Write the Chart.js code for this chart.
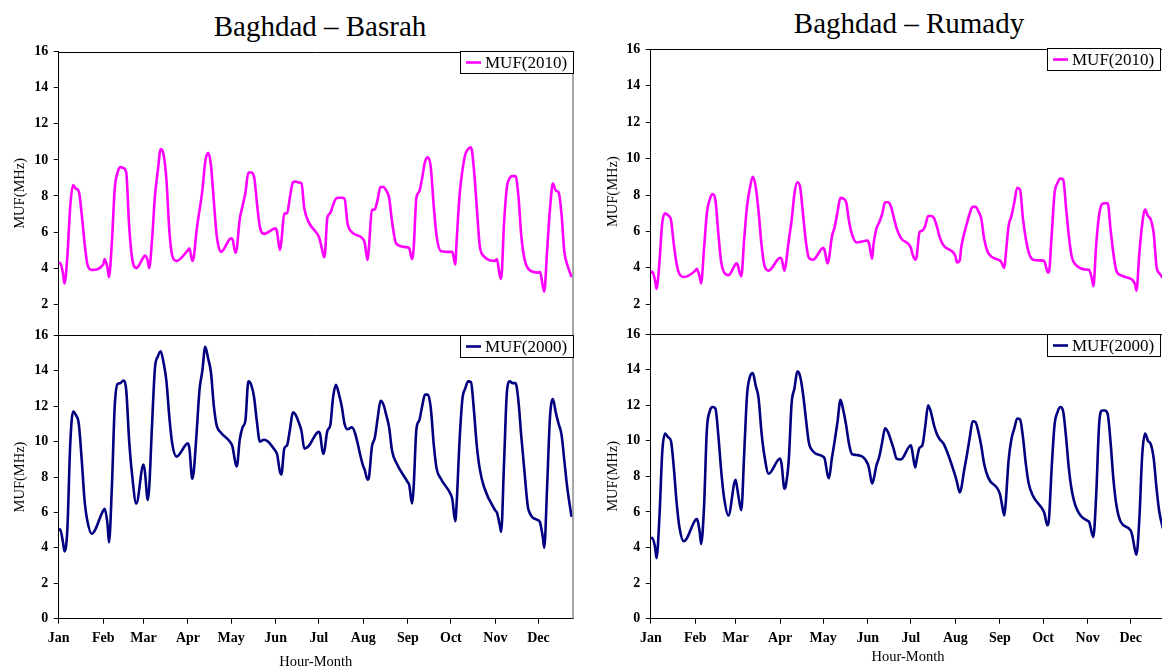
<!DOCTYPE html>
<html>
<head>
<meta charset="utf-8">
<script src="https://cdn.jsdelivr.net/npm/chart.js@4.4.1/dist/chart.umd.min.js"></script>
<style>
  html, body { margin: 0; padding: 0; background: #fff; overflow: hidden; width: 1162px; height: 668px; }
  canvas { position: absolute; left: 0; top: 0; }
  .title { position: absolute; font-family: 'Liberation Serif', 'Times New Roman', serif; font-size: 29px;
           line-height: 29px; white-space: nowrap; transform: translateX(-50%); color: #000; }
</style>
</head>
<body>
<div class="title" style="left:320px; top:12px">Baghdad – Basrah</div>
<div class="title" style="left:909px; top:9px">Baghdad – Rumady</div>
<canvas id="basrahTop" width="1170" height="680"></canvas>
<canvas id="basrahBottom" width="1170" height="680"></canvas>
<canvas id="rumadyTop" width="1170" height="680"></canvas>
<canvas id="rumadyBottom" width="1170" height="680"></canvas>
<script>
const MONTHS = ['Jan', 'Feb', 'Mar', 'Apr', 'May', 'Jun', 'Jul', 'Aug', 'Sep', 'Oct', 'Nov', 'Dec']
const MONTH_DAYS = [31, 28, 31, 30, 31, 30, 31, 31, 30, 31, 30, 31]
// hours of the day
const HOURS = [0, 1, 3, 4, 6, 8, 10, 12, 14, 16, 18, 20, 23]
const Y_TICKS_TOP = [2, 4, 6, 8, 10, 12, 14, 16]
const Y_TICKS_BOTTOM = [0, 2, 4, 6, 8, 10, 12, 14, 16]

// MUF (MHz), one row per month, one value per entry of HOURS
const BASRAH_2010 = [
  [4.25, 4.3, 3.7, 3.15, 4.6, 7.4, 8.6, 8.4, 8.25, 7.0, 5.4, 4.2, 3.9],
  [4.2, 4.5, 4.0, 3.5, 5.4, 8.4, 9.3, 9.6, 9.55, 9.3, 6.4, 4.6, 4.0],
  [4.6, 4.7, 4.4, 4.0, 5.6, 8.0, 9.4, 10.6, 10.3, 8.9, 6.1, 4.7, 4.4],
  [5.0, 5.1, 4.4, 4.6, 6.1, 7.2, 8.3, 9.9, 10.4, 9.7, 7.7, 5.8, 4.9],
  [5.65, 5.6, 4.85, 5.1, 6.7, 7.45, 8.2, 9.3, 9.3, 9.07, 7.6, 6.3, 5.9],
  [6.2, 6.0, 5.0, 5.5, 7.0, 7.05, 7.95, 8.75, 8.8, 8.75, 8.7, 7.3, 6.55],
  [5.75, 5.5, 4.8, 4.6, 6.8, 7.05, 7.5, 7.85, 7.9, 7.9, 7.85, 6.5, 6.0],
  [5.6, 5.4, 4.45, 5.2, 7.2, 7.25, 7.8, 8.5, 8.5, 8.3, 7.9, 6.6, 5.35],
  [5.15, 5.1, 4.5, 5.0, 7.9, 8.25, 9.0, 9.9, 10.15, 9.6, 7.5, 5.8, 4.95],
  [4.9, 4.9, 4.2, 5.5, 8.0, 9.4, 10.3, 10.6, 10.7, 9.5, 7.4, 5.3, 4.65],
  [4.4, 4.5, 3.6, 3.4, 6.5, 8.5, 9.0, 9.1, 9.1, 8.0, 5.8, 4.6, 3.95],
  [3.75, 3.8, 3.0, 2.7, 5.0, 7.3, 8.7, 8.3, 8.2, 7.0, 4.9, 4.2, 3.5]
]
const BASRAH_2000 = [
  [5.0, 5.05, 4.3, 3.8, 5.0, 9.8, 11.7, 11.5, 11.0, 9.0, 6.7, 5.5, 4.8],
  [6.1, 6.2, 5.3, 4.3, 7.4, 12.0, 13.25, 13.3, 13.45, 12.9, 10.1, 8.2, 6.5],
  [8.7, 8.3, 6.7, 7.4, 11.0, 14.15, 14.8, 15.1, 14.45, 13.4, 11.4, 9.9, 9.15],
  [9.9, 9.6, 7.9, 8.3, 10.5, 12.9, 14.0, 15.35, 14.7, 13.9, 12.0, 10.9, 10.5],
  [9.9, 9.7, 8.8, 8.6, 10.1, 10.8, 11.2, 13.4, 13.2, 12.5, 11.1, 10.0, 10.1],
  [9.45, 9.3, 8.3, 8.15, 9.6, 9.8, 10.7, 11.65, 11.5, 11.1, 10.6, 9.6, 9.75],
  [10.55, 10.4, 9.3, 9.5, 10.6, 10.9, 12.5, 13.2, 12.7, 12.0, 11.0, 10.7, 10.8],
  [8.6, 8.4, 7.85, 8.0, 9.7, 10.2, 11.3, 12.3, 12.1, 11.5, 10.8, 9.5, 8.8],
  [7.7, 7.55, 6.5, 7.3, 10.7, 11.2, 12.0, 12.65, 12.65, 11.9, 9.9, 8.5, 7.9],
  [7.0, 6.75, 5.5, 6.5, 10.0, 12.4, 13.0, 13.4, 13.35, 11.8, 9.8, 8.5, 7.45],
  [6.1, 6.0, 5.3, 4.9, 8.8, 12.8, 13.4, 13.3, 13.3, 12.3, 10.3, 8.5, 6.15],
  [5.55, 5.45, 4.6, 4.0, 7.5, 11.4, 12.4, 11.65, 11.0, 10.4, 8.9, 7.4, 5.75]
]
const RUMADY_2010 = [
  [3.7, 3.8, 3.3, 2.85, 4.3, 6.5, 7.0, 6.88, 6.65, 5.3, 4.2, 3.65, 3.5],
  [3.85, 3.95, 3.5, 3.15, 5.0, 7.0, 7.75, 8.05, 7.7, 5.9, 4.3, 3.75, 3.6],
  [4.2, 4.25, 3.7, 3.55, 5.6, 7.4, 8.4, 9.0, 8.45, 7.1, 5.3, 4.15, 3.85],
  [4.55, 4.5, 3.85, 4.2, 5.5, 6.6, 8.1, 8.7, 8.4, 6.9, 5.4, 4.55, 4.45],
  [5.1, 4.95, 4.25, 4.5, 5.7, 6.25, 7.1, 7.85, 7.8, 7.6, 6.55, 5.85, 5.4],
  [5.5, 5.3, 4.5, 5.3, 6.15, 6.5, 6.95, 7.6, 7.6, 7.4, 6.8, 6.2, 5.65],
  [5.1, 4.8, 4.45, 4.6, 5.95, 6.05, 6.3, 6.85, 6.85, 6.75, 6.3, 5.7, 5.2],
  [4.65, 4.3, 4.4, 5.1, 5.85, 6.45, 7.0, 7.35, 7.35, 7.1, 6.7, 5.6, 4.8],
  [4.4, 4.3, 4.0, 4.7, 6.3, 6.85, 7.6, 8.4, 8.3, 6.7, 5.6, 4.85, 4.45],
  [4.4, 4.35, 3.8, 3.75, 5.8, 8.1, 8.65, 8.9, 8.85, 7.3, 5.7, 4.6, 4.15],
  [3.9, 3.9, 3.4, 3.0, 5.3, 6.9, 7.5, 7.55, 7.55, 6.1, 4.75, 3.85, 3.6],
  [3.4, 3.35, 3.1, 2.75, 4.8, 6.4, 7.2, 6.85, 6.65, 5.9, 4.05, 3.7, 3.4]
]
const RUMADY_2000 = [
  [4.5, 4.55, 4.0, 3.4, 5.7, 9.4, 10.4, 10.2, 10.0, 8.5, 6.5, 5.1, 4.35],
  [5.55, 5.6, 4.9, 4.2, 6.2, 10.6, 11.65, 11.9, 11.8, 10.3, 8.3, 6.8, 5.8],
  [7.8, 7.4, 6.4, 6.1, 9.3, 12.6, 13.6, 13.8, 13.1, 12.4, 10.5, 9.2, 8.15],
  [9.0, 8.7, 7.3, 7.5, 8.9, 12.1, 12.95, 13.9, 13.6, 12.6, 11.2, 9.9, 9.4],
  [9.1, 9.0, 8.1, 7.9, 9.0, 10.0, 11.1, 12.3, 11.7, 10.85, 9.8, 9.25, 9.2],
  [8.7, 8.4, 7.6, 7.8, 8.6, 9.1, 9.9, 10.7, 10.5, 10.05, 9.55, 9.0, 8.95],
  [9.75, 9.4, 8.5, 8.9, 9.6, 9.75, 10.8, 12.0, 11.6, 10.9, 10.4, 10.1, 9.8],
  [8.0, 7.7, 7.1, 7.3, 8.3, 9.2, 10.2, 11.1, 11.05, 10.5, 9.7, 8.7, 7.9],
  [7.0, 6.6, 5.8, 6.5, 8.9, 10.1, 10.7, 11.25, 11.2, 10.2, 8.7, 7.6, 6.9],
  [6.1, 5.9, 5.25, 5.5, 8.5, 10.9, 11.6, 11.9, 11.65, 10.2, 8.4, 7.2, 6.25],
  [5.5, 5.45, 4.8, 4.6, 7.0, 10.9, 11.7, 11.7, 11.5, 9.9, 7.8, 6.4, 5.45],
  [4.95, 4.7, 3.85, 3.6, 5.6, 9.2, 10.4, 10.0, 9.8, 9.0, 7.3, 5.95, 4.9]
]

const MONTH_START = MONTH_DAYS.map((d, i) => MONTH_DAYS.slice(0, i).reduce((a, b) => a + b, 0))

// each hourly value sits on day (month start + hour) of the date axis
function toPoints (series) {
  const pts = []
  series.forEach((row, m) => {
    row.forEach((v, k) => pts.push({ x: MONTH_START[m] + HOURS[k], y: v }))
  })
  return pts
}

const SERIF = "'Liberation Serif', 'Times New Roman', serif"

const framePlugin = {
  id: 'frame',
  afterDraw (chart) {
    const { ctx, chartArea: a } = chart
    ctx.save()
    ctx.strokeStyle = '#000'
    ctx.lineWidth = 1
    ctx.beginPath()
    ctx.moveTo(a.left, Math.round(a.top) + 0.5)
    ctx.lineTo(a.right, Math.round(a.top) + 0.5)
    ctx.stroke()
    ctx.strokeStyle = '#8a8a8a'
    ctx.lineWidth = 1.5
    ctx.beginPath()
    ctx.moveTo(a.right, a.top)
    ctx.lineTo(a.right, a.bottom)
    ctx.stroke()
    ctx.restore()
  }
}

const boxLegendPlugin = {
  id: 'boxLegend',
  afterDraw (chart, args, opts) {
    const ds = chart.data.datasets[0]
    const { ctx, chartArea: a } = chart
    ctx.save()
    ctx.font = '17px ' + SERIF
    const w = Math.round(6 + 15 + 4 + ctx.measureText(ds.label).width + 6)
    const h = 22
    const left = Math.round(a.right - opts.inset - w)
    const top = Math.round(a.top + opts.dy)
    ctx.fillStyle = '#fff'
    ctx.fillRect(left, top, w, h)
    ctx.strokeStyle = '#000'
    ctx.lineWidth = 1
    ctx.strokeRect(left + 0.5, top + 0.5, w, h)
    ctx.strokeStyle = ds.borderColor
    ctx.lineWidth = 2.6
    ctx.beginPath()
    ctx.moveTo(left + 6, top + h / 2 + 0.5)
    ctx.lineTo(left + 21, top + h / 2 + 0.5)
    ctx.stroke()
    ctx.fillStyle = '#000'
    ctx.textBaseline = 'middle'
    ctx.fillText(ds.label, left + 25, top + h / 2 + 1.5)
    ctx.restore()
  }
}

function makeChart (id, cfg) {
  // eslint-disable-next-line no-new
  new Chart(document.getElementById(id), {
    type: 'line',
    data: {
      datasets: [{
        label: cfg.label,
        data: toPoints(cfg.series),
        borderColor: cfg.color,
        backgroundColor: cfg.color,
        borderWidth: 2.6,
        pointRadius: 0,
        cubicInterpolationMode: 'monotone',
        fill: false
      }]
    },
    options: {
      responsive: false,
      animation: false,
      events: [],
      layout: { padding: cfg.padding },
      plugins: {
        legend: { display: false },
        tooltip: { enabled: false },
        boxLegend: { inset: cfg.legendInset, dy: cfg.legendDy }
      },
      scales: {
        x: {
          type: 'linear',
          min: 0,
          max: 358,
          display: cfg.showX,
          afterBuildTicks: s => { s.ticks = MONTH_START.map(v => ({ value: v })) },
          afterFit: s => { if (cfg.xHeight) s.height = cfg.xHeight },
          ticks: {
            autoSkip: false,
            maxRotation: 0,
            padding: 6,
            color: '#000',
            font: { family: SERIF, size: 14, weight: 'bold' },
            callback: v => MONTHS[MONTH_START.indexOf(v)] || ''
          },
          grid: { drawOnChartArea: false, color: '#000', tickLength: 5 },
          border: { color: '#000', width: 1 },
          title: {
            display: true,
            text: 'Hour-Month',
            color: '#000',
            font: { family: SERIF, size: 14.5 },
            padding: { top: 0, bottom: 0 }
          }
        },
        y: {
          min: cfg.yMin,
          max: 16,
          afterBuildTicks: s => { s.ticks = cfg.yTicks.map(v => ({ value: v })) },
          afterFit: s => { s.width = cfg.yWidth },
          ticks: {
            padding: 5.5,
            color: '#000',
            font: { family: SERIF, size: 14, weight: 'bold' }
          },
          grid: { drawOnChartArea: false, color: '#000', tickLength: 5 },
          border: { color: '#000', width: 1 },
          title: {
            display: true,
            text: 'MUF(MHz)',
            color: '#000',
            font: { family: SERIF, size: 14.5 },
            padding: { top: 11.6, bottom: 0 }
          }
        }
      }
    },
    plugins: [framePlugin, boxLegendPlugin]
  })
}

makeChart('basrahTop', {
  label: 'MUF(2010)', series: BASRAH_2010, color: '#ff00ff',
  padding: { left: 0, top: 51.7, right: 597, bottom: 345 },
  yWidth: 58.7, yMin: 0.29, yTicks: Y_TICKS_TOP, showX: false,
  legendInset: 0.5, legendDy: -0.7
})
makeChart('basrahBottom', {
  label: 'MUF(2000)', series: BASRAH_2000, color: '#000080',
  padding: { left: 0, top: 335.3, right: 597, bottom: 9.6 },
  yWidth: 58.7, yMin: 0, yTicks: Y_TICKS_BOTTOM, showX: true, xHeight: 51.7,
  legendInset: 0.5, legendDy: -0.3
})
makeChart('rumadyTop', {
  label: 'MUF(2010)', series: RUMADY_2010, color: '#ff00ff',
  padding: { left: 593, top: 49.3, right: 4.8, bottom: 346 },
  yWidth: 57.8, yMin: 0.37, yTicks: Y_TICKS_TOP, showX: false,
  legendInset: 5.2, legendDy: -1
})
makeChart('rumadyBottom', {
  label: 'MUF(2000)', series: RUMADY_2000, color: '#000080',
  padding: { left: 593, top: 334, right: 4.8, bottom: 14.6 },
  yWidth: 57.8, yMin: 0, yTicks: Y_TICKS_BOTTOM, showX: true, xHeight: 46.7,
  legendInset: 5.2, legendDy: 0
})
</script>
</body>
</html>
